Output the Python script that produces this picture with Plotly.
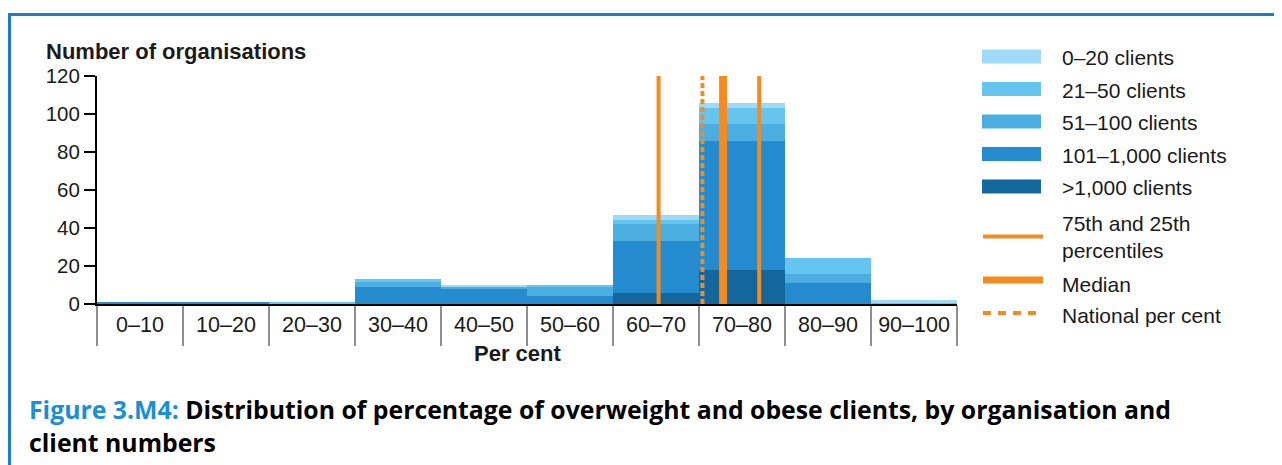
import plotly.graph_objects as go

# ---------------- data ----------------
bins = ["0–10", "10–20", "20–30", "30–40", "40–50", "50–60", "60–70", "70–80", "80–90", "90–100"]
bin_centres = [5, 15, 25, 35, 45, 55, 65, 75, 85, 95]
bin_edges = [0, 10, 20, 30, 40, 50, 60, 70, 80, 90, 100]

over_1000 = [0, 0, 0, 0, 0, 0, 6, 18, 0, 0]
c101_1000 = [1, 1, 0, 9, 8, 4, 27, 68, 11, 0]
c51_100 = [0, 0, 0, 3, 1, 5, 9, 9, 5, 0]
c21_50 = [0, 0, 1, 1, 0, 1, 2, 8, 8, 1]
c0_20 = [0, 0, 0, 0, 1, 0, 3, 3, 0, 1]

percentile_25 = 65.3
median = 72.8
percentile_75 = 77.0
national = 70.4

y_ticks = [0, 20, 40, 60, 80, 100, 120]

series = [
    (">1,000 clients", over_1000, "#13679d"),
    ("101–1,000 clients", c101_1000, "#248bce"),
    ("51–100 clients", c51_100, "#4badE0"),
    ("21–50 clients", c21_50, "#66c5ef"),
    ("0–20 clients", c0_20, "#9fdaf6"),
]
ORANGE = "#f58b1f"
TXT = "#1a1a1a"
FONT = "Liberation Sans, Arial, sans-serif"

# ---------------- geometry helpers ----------------
# page body has an 8px margin; reference pixel coords are shifted by it
OFF = 8
W, H = 1282, 465
PL, PR, PT, PB = 97, 957, 76, 304          # plot area in reference pixels
L = PL - OFF
T = PT - OFF
R = W - (PR - OFF)
B = H - (PB - OFF)
PW, PH = PR - PL, PB - PT


def px(X):
    return (X - PL) / PW


def py(Y):
    return (PB - Y) / PH


fig = go.Figure()

for name, vals, col in series:
    fig.add_trace(go.Bar(
        x=bin_centres, y=vals, width=10, name=name,
        marker=dict(color=col, line=dict(width=0)),
        showlegend=False,
    ))

for xv, w, dash in [(percentile_25, 4, "solid"), (percentile_75, 4, "solid"),
                    (median, 8, "solid"), (national, 4, "5px,3px")]:
    fig.add_trace(go.Scatter(
        x=[xv, xv], y=[0, 120], mode="lines",
        line=dict(color=ORANGE, width=w, dash=dash),
        showlegend=False, hoverinfo="skip",
    ))

fig.update_layout(
    width=W, height=H,
    margin=dict(l=L, r=R, t=T, b=B, pad=0),
    barmode="stack", bargap=0,
    plot_bgcolor="white", paper_bgcolor="white",
    font=dict(family=FONT, size=20, color=TXT),
    showlegend=False,
)

fig.update_xaxes(
    range=[0, 100], showgrid=False, zeroline=False,
    showline=True, linecolor="black", linewidth=2,
    tickmode="array", tickvals=bin_centres, ticktext=bins,
    ticks="", ticklabelstandoff=0,
    tickfont=dict(size=21.5, color=TXT, family=FONT),
    minor=dict(tickmode="array", tickvals=bin_edges, ticks="outside",
               ticklen=40, tickwidth=2, tickcolor="#8f8f8f", showgrid=False),
)
fig.update_yaxes(
    range=[0, 120], showgrid=False, zeroline=False,
    showline=True, linecolor="black", linewidth=2,
    tickmode="array", tickvals=y_ticks,
    ticks="outside", ticklen=11, tickwidth=2, tickcolor="black",
    tickfont=dict(size=20.5, color=TXT, family=FONT),
)

shapes = []
annotations = []

annotations.append(dict(xref="paper", yref="paper", x=px(44), y=py(52),
                        xanchor="left", yanchor="middle", showarrow=False,
                        text="<b>Number of organisations</b>",
                        font=dict(size=22, color=TXT, family=FONT)))
annotations.append(dict(xref="paper", yref="paper", x=px(517), y=py(353),
                        xanchor="center", yanchor="middle", showarrow=False,
                        text="<b>Per cent</b>",
                        font=dict(size=22, color=TXT, family=FONT)))

LEG = 21
leg_items = [("0–20 clients", "#9fdaf6", 56.5), ("21–50 clients", "#66c5ef", 89),
             ("51–100 clients", "#4badE0", 121.5), ("101–1,000 clients", "#248bce", 154),
             (">1,000 clients", "#13679d", 186.5)]
for label, col, yc in leg_items:
    shapes.append(dict(type="rect", xref="paper", yref="paper",
                       x0=px(982), x1=px(1041), y0=py(yc + 7), y1=py(yc - 7),
                       fillcolor=col, line=dict(width=0)))
    annotations.append(dict(xref="paper", yref="paper", x=px(1060), y=py(yc + 1),
                            xanchor="left", yanchor="middle", showarrow=False,
                            text=label, font=dict(size=LEG, color=TXT, family=FONT)))

shapes.append(dict(type="line", xref="paper", yref="paper", x0=px(983), x1=px(1043),
                   y0=py(236.5), y1=py(236.5), line=dict(color=ORANGE, width=4)))
annotations.append(dict(xref="paper", yref="paper", x=px(1060), y=py(236.5),
                        xanchor="left", yanchor="middle", showarrow=False, align="left",
                        text="75th and 25th<br>percentiles",
                        font=dict(size=LEG, color=TXT, family=FONT)))
shapes.append(dict(type="line", xref="paper", yref="paper", x0=px(983), x1=px(1043),
                   y0=py(280), y1=py(280), line=dict(color=ORANGE, width=7)))
annotations.append(dict(xref="paper", yref="paper", x=px(1060), y=py(284),
                        xanchor="left", yanchor="middle", showarrow=False,
                        text="Median", font=dict(size=LEG, color=TXT, family=FONT)))
shapes.append(dict(type="line", xref="paper", yref="paper", x0=px(983), x1=px(1043),
                   y0=py(313), y1=py(313), line=dict(color=ORANGE, width=4, dash="8px,7px")))
annotations.append(dict(xref="paper", yref="paper", x=px(1060), y=py(315),
                        xanchor="left", yanchor="middle", showarrow=False,
                        text="National per cent", font=dict(size=LEG, color=TXT, family=FONT)))

FRAME = "#1b7dc2"
shapes.append(dict(type="line", xref="paper", yref="paper", x0=px(0), x1=px(1290),
                   y0=py(14.5), y1=py(14.5), line=dict(color=FRAME, width=3)))
shapes.append(dict(type="line", xref="paper", yref="paper", x0=px(9.5), x1=px(9.5),
                   y0=py(13), y1=py(480), line=dict(color=FRAME, width=3)))

CAP = "Open Sans, Lato, sans-serif"
annotations.append(dict(xref="paper", yref="paper", x=px(27), y=py(409),
                        xanchor="left", yanchor="middle", showarrow=False,
                        text="<b><span style='color:#1a8fd6'>Figure 3.M4:</span> Distribution of percentage of overweight and obese clients, by organisation and</b>",
                        font=dict(size=24.8, color="black", family=CAP)))
annotations.append(dict(xref="paper", yref="paper", x=px(27), y=py(442),
                        xanchor="left", yanchor="middle", showarrow=False,
                        text="<b>client numbers</b>",
                        font=dict(size=24.8, color="black", family=CAP)))

fig.update_layout(shapes=shapes, annotations=annotations)
fig.write_html("out.html")
